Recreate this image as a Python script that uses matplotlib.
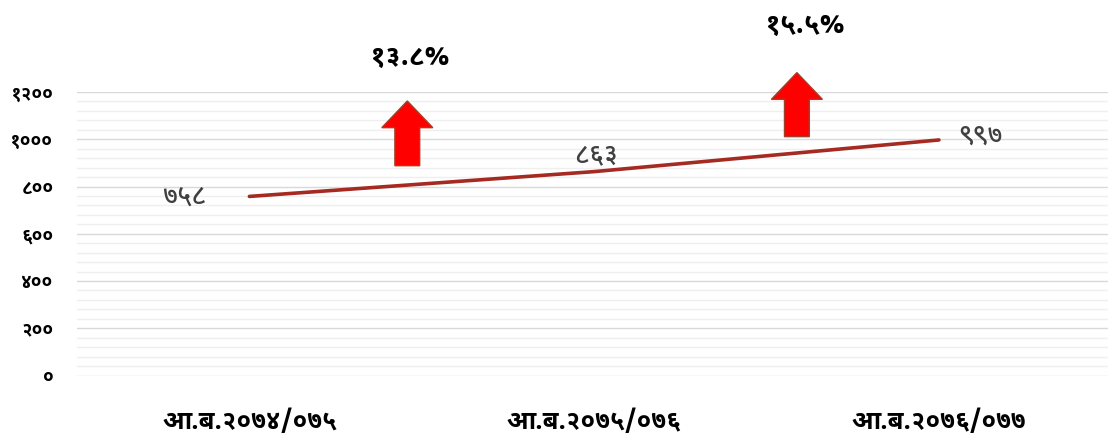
import matplotlib
matplotlib.use("Agg")
import matplotlib.pyplot as plt
import numpy as np
from matplotlib import font_manager
from matplotlib.ft2font import FT2Font
from matplotlib.patches import Polygon

# Data (Nepali numerals as shown on the chart)
years = ['आ.ब.२०७४/०७५', 'आ.ब.२०७५/०७६', 'आ.ब.२०७६/०७७']
values = [758, 863, 997]
value_labels = ['७५८', '८६३', '९९७']
growth_labels = ['१३.८%', '१५.५%']
ytick_values = [0, 200, 400, 600, 800, 1000, 1200]
ytick_labels = ['०', '२००', '४००', '६००', '८००', '१०००', '१२००']


# Pick a Devanagari font (Noto Sans Devanagari if it is there)
def find_devanagari_font():
    paths = font_manager.findSystemFonts()
    for key in ['NotoSansDevanagari-', 'NotoSansDevanagariUI-', 'NotoSansDevanagari']:
        hits = [p for p in paths if key in p.split('/')[-1]]
        if hits:
            for p in hits:
                font_manager.fontManager.addfont(p)
            return FT2Font(hits[0]).family_name
    for p in paths:
        if 'unifont' in p.lower():
            continue
        try:
            if 0x0906 in FT2Font(p).get_charmap():
                font_manager.fontManager.addfont(p)
                return FT2Font(p).family_name
        except Exception:
            continue
    return None


deva = find_devanagari_font()
families = [deva, 'DejaVu Sans'] if deva else ['DejaVu Sans']
plt.rcParams['font.family'] = families

fig = plt.figure(figsize=(11.08, 4.38), dpi=100)
ax = fig.add_axes([77 / 1108, 1 - 375.5 / 438, 1 - 77 / 1108 + 0.003, 283.5 / 438])

x = np.arange(len(years))
ax.plot(x, values, color='#A52A22', linewidth=2.6, solid_capstyle='round', zorder=3)

ax.set_xlim(-0.5, 2.5)
ax.set_ylim(0, 1200)

# gridlines: major every 200, minor every 40
ax.set_yticks(ytick_values)
ax.set_yticklabels(ytick_labels, fontsize=13.5, fontweight='bold')
for lbl in ax.get_yticklabels():
    lbl.set_verticalalignment('center_baseline')
ax.set_yticks(np.arange(0, 1201, 40), minor=True)
ax.grid(True, which='major', axis='y', color='#d9d9d9', linewidth=1.0)
ax.grid(True, which='minor', axis='y', color='#efefef', linewidth=1.0)
ax.tick_params(axis='y', which='both', length=0, pad=17)
ax.set_axisbelow(True)

ax.set_xticks(x)
ax.set_xticklabels(years, fontsize=18.5, fontweight='bold')
ax.tick_params(axis='x', length=0, pad=24)

for s in ax.spines.values():
    s.set_visible(False)

# value labels
ax.text(x[0] - 0.19, values[0], value_labels[0], ha='center', va='center',
        fontsize=19, color='#404040', fontweight='medium')
ax.text(x[1] + 0.005, values[1] + 70, value_labels[1], ha='center', va='center',
        fontsize=19, color='#404040', fontweight='medium')
ax.text(x[2] + 0.12, values[2] + 20, value_labels[2], ha='center', va='center',
        fontsize=19, color='#404040', fontweight='medium')


# red "up" arrows with growth percentages
def up_arrow(xc, y0, y1, yhead):
    hw, sw = 0.074, 0.036
    pts = [(xc - sw, y0), (xc + sw, y0), (xc + sw, yhead), (xc + hw, yhead),
           (xc, y1), (xc - hw, yhead), (xc - sw, yhead)]
    ax.add_patch(Polygon(pts, closed=True, facecolor='#FF0000',
                         edgecolor='#A0402A', linewidth=1.0, clip_on=False, zorder=4))


up_arrow(0.458, 888, 1162, 1049)
up_arrow(1.588, 1011, 1282, 1169)

ax.text(0.465, 1350, growth_labels[0], ha='center', va='center',
        fontsize=20, fontweight='bold', clip_on=False)
ax.text(1.610, 1483, growth_labels[1], ha='center', va='center',
        fontsize=20, fontweight='bold', clip_on=False)

fig.savefig('out.png', dpi=100)
